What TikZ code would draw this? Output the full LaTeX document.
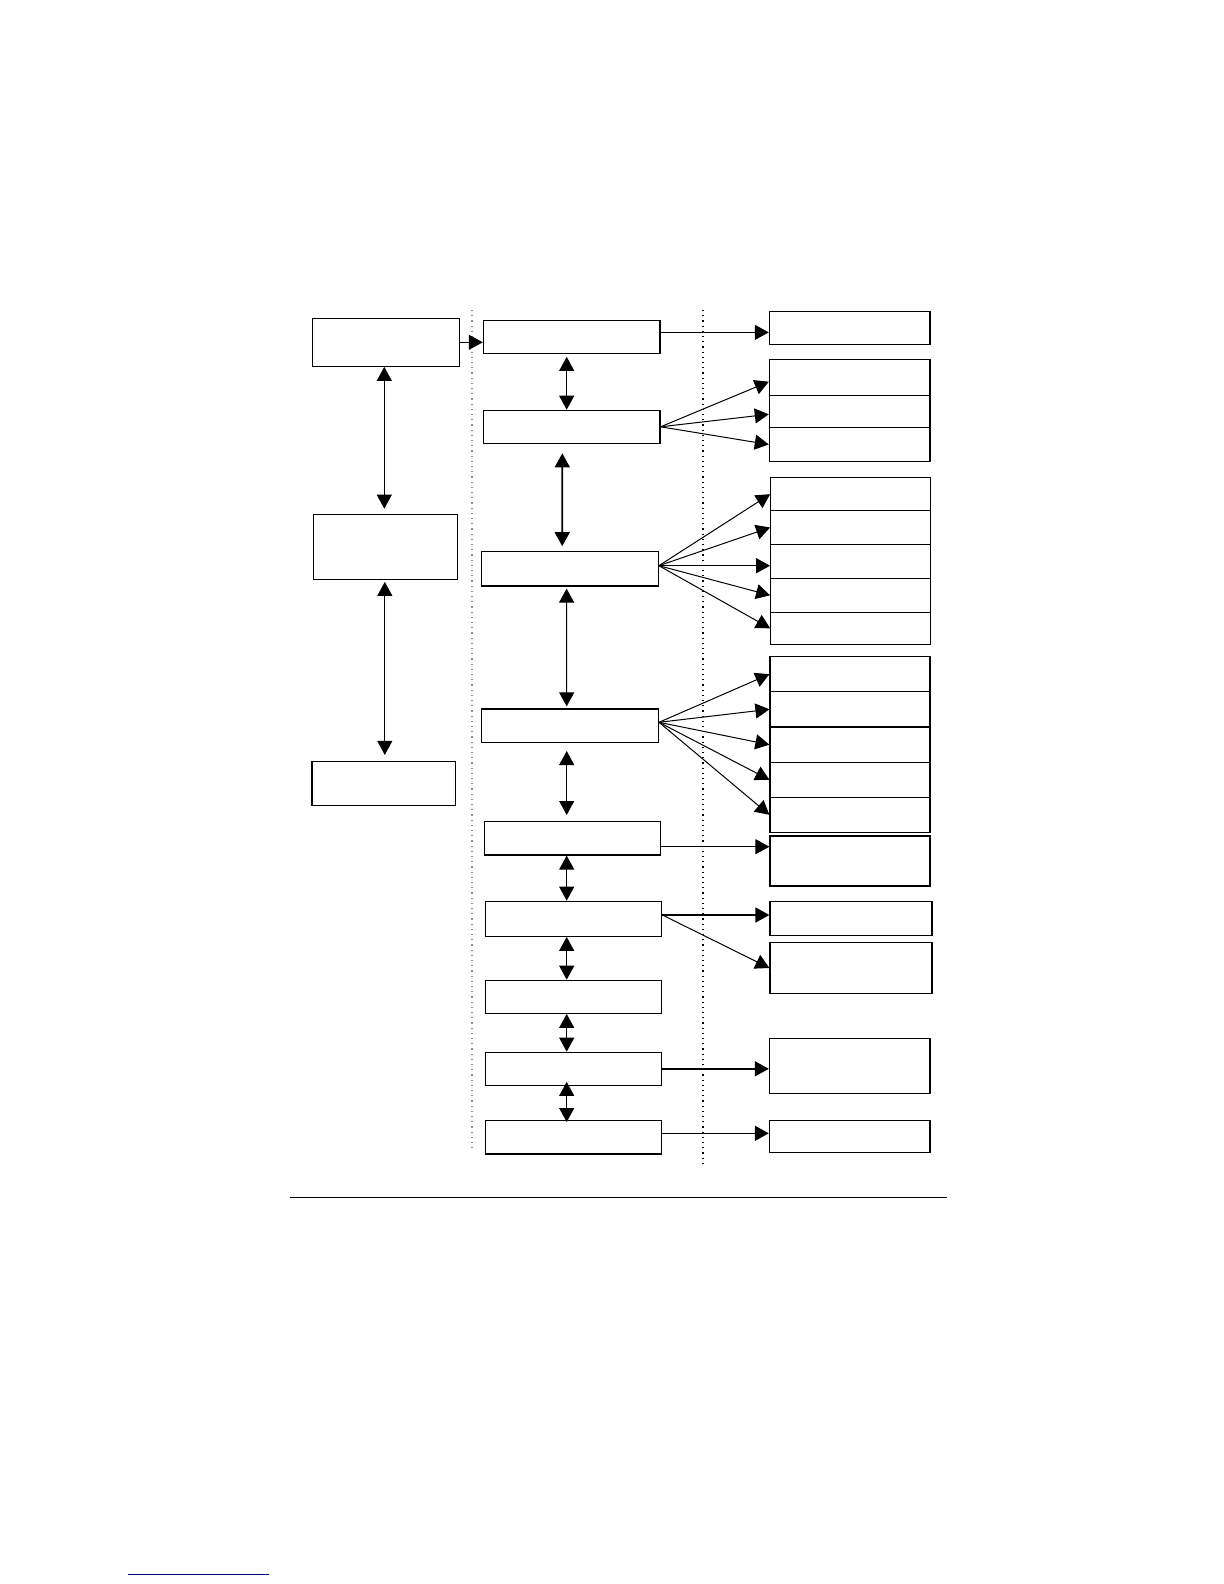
\documentclass[tikz,border=0pt]{standalone}
\usetikzlibrary{arrows.meta}
\definecolor{linkblue}{RGB}{0,0,128}
\definecolor{dotgray}{RGB}{140,140,140}

\begin{document}
\begin{tikzpicture}[x=0.5pt,y=-0.5pt,
  box/.style={draw,rectangle,inner sep=0pt,line width=0.6pt},
  arr/.style={-{Triangle[length=7pt,width=7.5pt]},line width=0.5pt},
  dbl/.style={{Triangle[length=7pt,width=7.5pt]}-{Triangle[length=7pt,width=7.5pt]},line width=0.5pt}]

\useasboundingbox (0,0) rectangle (1224,1584);

% left column
\node[box,minimum width=73.3pt,minimum height=24pt] (l1) at (386,342.3) {};
\node[box,minimum width=72pt,minimum height=32.5pt] (l2) at (385.3,546.8) {};
\node[box,minimum width=71.8pt,minimum height=21.8pt] (l3) at (383.8,783.3) {};

% middle column
\node[box,minimum width=88.3pt,minimum height=16.5pt] (m1) at (571.7,336.8) {};
\node[box,minimum width=88.3pt,minimum height=16.5pt] (m2) at (571.7,426.8) {};
\node[box,minimum width=88.3pt,minimum height=17.3pt] (m3) at (570,568.7) {};
\node[box,minimum width=88.3pt,minimum height=16.7pt] (m4) at (570.1,725.7) {};
\node[box,minimum width=88.3pt,minimum height=16.7pt] (m5) at (572.5,838.3) {};
\node[box,minimum width=88.3pt,minimum height=17.5pt] (m6) at (573.5,918.8) {};
\node[box,minimum width=88.3pt,minimum height=16.5pt] (m7) at (573.5,996.8) {};
\node[box,minimum width=88.3pt,minimum height=16.5pt] (m8) at (573.5,1068.8) {};
\node[box,minimum width=88.3pt,minimum height=16.7pt] (m9) at (573.5,1137.3) {};

% right column
\node[box,minimum width=80.3pt,minimum height=16.3pt] (r1) at (849.7,328) {};

\node[box,minimum width=80.3pt,minimum height=18pt] (r2a) at (849.7,377.3) {};
\node[box,minimum width=80.3pt,minimum height=16.2pt] (r2b) at (849.7,411.5) {};
\node[box,minimum width=80.3pt,minimum height=16.8pt] (r2c) at (849.7,444.5) {};

\node[box,minimum width=80pt,minimum height=16.5pt] (r3a) at (850.7,494.2) {};
\node[box,minimum width=80pt,minimum height=16.8pt] (r3b) at (850.7,527.5) {};
\node[box,minimum width=80pt,minimum height=17pt] (r3c) at (850.7,561.3) {};
\node[box,minimum width=80pt,minimum height=17pt] (r3d) at (850.7,595.3) {};
\node[box,minimum width=80pt,minimum height=16pt] (r3e) at (850.7,628.3) {};

\node[box,minimum width=80pt,minimum height=17.5pt] (r4a) at (850,674.2) {};
\node[box,minimum width=80pt,minimum height=17.7pt] (r4b) at (850,709.3) {};
\node[box,minimum width=80pt,minimum height=17.7pt] (r4c) at (850,744.7) {};
\node[box,minimum width=80pt,minimum height=17.5pt] (r4d) at (850,779.8) {};
\node[box,minimum width=80pt,minimum height=17.5pt] (r4e) at (850,814.8) {};

\node[box,minimum width=80pt,minimum height=25pt] (r5) at (850,861) {};
\node[box,minimum width=81pt,minimum height=16.8pt] (r6) at (851,918.5) {};
\node[box,minimum width=81pt,minimum height=25.3pt] (r7) at (851,968) {};
\node[box,minimum width=80.3pt,minimum height=27.5pt] (r8) at (849.7,1065.8) {};
\node[box,minimum width=80.3pt,minimum height=16pt] (r9) at (849.7,1136.7) {};

% dotted separators
\draw[dotgray,dotted,line width=0.6pt] (472,310) -- (472,1149);
\draw[dotted,line width=0.6pt] (703,310) -- (703,1164);

% left links
\draw[dbl] ([xshift=-0.85pt]l1.south) -- ([xshift=-0.5pt,yshift=2.5pt]l2.north);
\draw[dbl] ([xshift=-0.25pt,yshift=-1pt]l2.south) -- ([xshift=0.5pt,yshift=3pt]l3.north);
\draw[arr] (l1.east) -- (l1.east -| m1.west);

% middle links
\draw[dbl] ([xshift=-2.5pt,yshift=-1.5pt]m1.south) -- ([xshift=-2.5pt]m2.north);
\draw[dbl,line width=0.8pt] ([xshift=-4.7pt,yshift=-4.7pt]m2.south) -- ([xshift=-3.9pt,yshift=2.3pt]m3.north);
\draw[dbl] ([xshift=-1.7pt,yshift=-1pt]m3.south) -- ([xshift=-1.7pt,yshift=1pt]m4.north);
\draw[dbl] ([xshift=-1.7pt,yshift=-4pt]m4.south) -- ([xshift=-2.9pt,yshift=3pt]m5.north);
\draw[dbl] ([xshift=-2.9pt]m5.south) -- ([xshift=-3.4pt]m6.north);
\draw[dbl] ([xshift=-3.4pt]m6.south) -- ([xshift=-3.4pt]m7.north);
\draw[dbl] ([xshift=-3.4pt]m7.south) -- ([xshift=-3.4pt]m8.north);
\draw[dbl] ([xshift=-3.4pt,yshift=2pt]m8.south) -- ([xshift=-3.4pt,yshift=-1pt]m9.north);

% right links
\draw[arr] ([yshift=2.2pt]m1.east) -- ([yshift=2.2pt]m1.east -| r1.west);

\draw[arr] (m2.east) -- ([yshift=-2.2pt]r2a.west);
\draw[arr] (m2.east) -- ([yshift=-1.4pt]r2b.west);
\draw[arr] (m2.east) -- (r2c.west);

\draw[arr] ([yshift=1.5pt]m3.east) -- (r3a.west);
\draw[arr] ([yshift=1.5pt]m3.east) -- (r3b.west);
\draw[arr] ([yshift=1.5pt]m3.east) -- ([yshift=1.5pt]m3.east -| r3c.west);
\draw[arr] ([yshift=1.5pt]m3.east) -- (r3d.west);
\draw[arr] ([yshift=1.5pt]m3.east) -- (r3e.west);

\draw[arr] ([yshift=1.7pt]m4.east) -- (r4a.west);
\draw[arr] ([yshift=1.7pt]m4.east) -- (r4b.west);
\draw[arr] ([yshift=1.7pt]m4.east) -- (r4c.west);
\draw[arr] ([yshift=1.7pt]m4.east) -- (r4d.west);
\draw[arr] ([yshift=1.7pt]m4.east) -- (r4e.west);

\draw[arr] ([yshift=-4.2pt]m5.east) -- ([yshift=-4.2pt]m5.east -| r5.west);
\draw[arr,line width=0.8pt] ([yshift=1.9pt]m6.east) -- ([yshift=1.9pt]m6.east -| r6.west);
\draw[arr] ([yshift=1.9pt]m6.east) -- (r7.west);
\draw[arr,line width=0.8pt] (m8.east) -- (m8.east -| r8.west);
\draw[arr,line width=0.8pt] ([yshift=2pt]m9.east) -- ([yshift=2pt]m9.east -| r9.west);

% page rule and link underline
\draw[line width=0.7pt] (290,1197.7) -- (947,1197.7);
\draw[linkblue,line width=0.6pt] (128,1574.5) -- (268.6,1574.5);

\end{tikzpicture}
\end{document}
